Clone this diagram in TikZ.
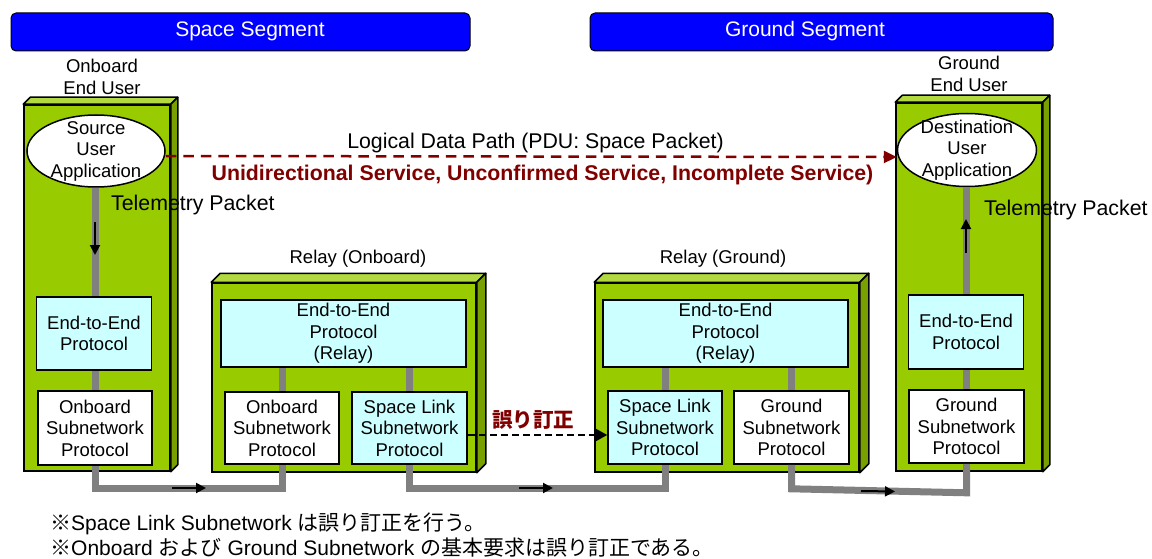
\documentclass[tikz,border=0pt]{standalone}
\usepackage{fontspec}
\setmainfont{Liberation Sans}
\newfontfamily\jp{Noto Sans CJK JP}
\usetikzlibrary{arrows.meta,calc,shapes.geometric}

\definecolor{segblue}{RGB}{0,0,255}
\definecolor{boxgreen}{RGB}{153,204,0}
\definecolor{topgreen}{RGB}{178,218,64}
\definecolor{sidegreen}{RGB}{120,160,0}
\definecolor{protocyan}{RGB}{204,255,255}
\definecolor{linkgray}{RGB}{128,128,128}
\definecolor{pathred}{RGB}{128,0,0}

% top and right faces of a station block
\newcommand\boxfaces[2]{%
  \filldraw[fill=topgreen, line width=1.5pt, line join=round]
    (#1.north west) -- ++(#2,-#2) -- ($(#1.north east)+(#2,-#2)$) -- (#1.north east) -- cycle;
  \filldraw[fill=sidegreen, line width=1.5pt, line join=round]
    (#1.north east) -- ++(#2,-#2) -- ($(#1.south east)+(#2,-#2)$) -- (#1.south east) -- cycle;
}

\begin{document}
\begin{tikzpicture}[x=1pt, y=-1pt,
  every node/.style={font=\fontsize{18.5}{21.5}\selectfont, align=center, inner sep=0pt},
  segment/.style={draw=black, line width=1pt, fill=segblue, rounded corners=5pt,
    minimum height=38pt},
  segtext/.style={text=white, font=\fontsize{21}{24}\selectfont},
  station/.style={draw=black, line width=1.5pt, fill=boxgreen},
  proto/.style={draw=black, line width=1.6pt, fill=protocyan},
  subnet/.style={draw=black, line width=1.6pt, fill=white},
  app/.style={ellipse, draw=black, line width=1.5pt, fill=white},
  link/.style={draw=linkgray, line width=7pt},
  flow/.style={draw=black, line width=2pt, -{Triangle[length=10pt,width=10pt]}},
  logical/.style={draw=pathred, line width=2.5pt, dash pattern=on 10.5pt off 7pt,
    -{Triangle[length=13pt,width=12pt]}},
  fec/.style={draw=black, line width=1.5pt, dash pattern=on 7pt off 4pt,
    -{Triangle[length=13pt,width=14pt]}},
  note/.style={anchor=west, font=\fontsize{21}{24}\selectfont},
]
\useasboundingbox (0,0) rectangle (1152,559);

% segment banners
\node[segment, minimum width=459pt] (spaceSeg) at (240.5,32) {};
\node[segtext] (spaceSegT) at (250,31) {Space Segment};
\node[segment, minimum width=463pt] (groundSeg) at (821.5,32) {};
\node[segtext] (groundSegT) at (805,31) {Ground Segment};

% station blocks
\node[station, minimum width=146pt, minimum height=366pt] (obU) at (97,288) {};
\boxfaces{obU}{7}
\node[station, minimum width=264pt, minimum height=189pt] (relO) at (344,377.5) {};
\boxfaces{relO}{9}
\node[station, minimum width=264pt, minimum height=189pt] (relG) at (727,377.5) {};
\boxfaces{relG}{9}
\node[station, minimum width=146pt, minimum height=368pt] (grU) at (969,287) {};
\boxfaces{grU}{7}

\node (obUT) at (102,77) {Onboard\\End User};
\node (relOT) at (358,259) {Relay (Onboard)};
\node (relGT) at (723,259) {Relay (Ground)};
\node (grUT) at (969,74) {Ground\\End User};

% onboard end user
\node[app, minimum width=138pt, minimum height=72pt] (src) at (96,151) {};
\node (srcT) at (src.center) {Source\\User\\Application};
\node[proto, minimum width=115pt, minimum height=73pt] (e2eL) at (94,333.5) {End-to-End\\Protocol};
\node[subnet, minimum width=114pt, minimum height=74pt] (subL) at (95,428) {Onboard\\Subnetwork\\Protocol};

% onboard relay
\node[proto, minimum width=245pt, minimum height=67pt] (e2eRO) at (343.5,333.5) {End-to-End\\Protocol\\(Relay)};
\node[subnet, minimum width=114pt, minimum height=72pt] (subRO) at (282,428) {Onboard\\Subnetwork\\Protocol};
\node[proto, minimum width=115pt, minimum height=72pt] (slRO) at (409.5,428) {Space Link\\Subnetwork\\Protocol};

% ground relay
\node[proto, minimum width=245pt, minimum height=67pt] (e2eRG) at (725.5,333.5) {End-to-End\\Protocol\\(Relay)};
\node[proto, minimum width=114pt, minimum height=73pt] (slRG) at (665,427.5) {Space Link\\Subnetwork\\Protocol};
\node[subnet, minimum width=115pt, minimum height=73pt] (gRG) at (791.5,427.5) {Ground\\Subnetwork\\Protocol};

% ground end user
\node[app, minimum width=139pt, minimum height=73pt] (dst) at (967,150) {};
\node (dstT) at (dst.center) {Destination\\User\\Application};
\node[proto, minimum width=115pt, minimum height=74pt] (e2eR) at (966,332) {End-to-End\\Protocol};
\node[subnet, minimum width=115pt, minimum height=73pt] (subR) at (966.5,426.5) {Ground\\Subnetwork\\Protocol};

% protocol stack links
\draw[link] (src.south -| subL.north) -- (subL.north |- e2eL.north);
\draw[link] (subL.north |- e2eL.south) -- (subL.north);
\draw[link] (subRO.north |- e2eRO.south) -- (subRO.north);
\draw[link] (slRO.north |- e2eRO.south) -- (slRO.north);
\draw[link] (slRG.north |- e2eRG.south) -- (slRG.north);
\draw[link] (gRG.north |- e2eRG.south) -- (gRG.north);
\draw[link] (dst.south -| subR.north) -- (subR.north |- e2eR.north);
\draw[link] (subR.north |- e2eR.south) -- (subR.north);

% physical path between stations
\draw[link] (subL.south) -- ++(0,23) -| (subRO.south);
\draw[link] (slRO.south) -- ++(0,24) -| (slRG.south);
\draw[link] (gRG.south) -- ++(0,24) -- ($(subR.south)+(0,29)$) -- (subR.south);

% direction of the telemetry flow
\coordinate (f1a) at (95,222);  \coordinate (f1b) at (95,255);
\coordinate (f2a) at (172,488); \coordinate (f2b) at (206,488);
\coordinate (f3a) at (519,488); \coordinate (f3b) at (553,488);
\coordinate (f4a) at (861,491); \coordinate (f4b) at (895,491.5);
\coordinate (f5a) at (966,253); \coordinate (f5b) at (966,219);
\draw[flow] (f1a) -- (f1b);
\draw[flow] (f2a) -- (f2b);
\draw[flow] (f3a) -- (f3b);
\draw[flow] (f4a) -- (f4b);
\draw[flow] (f5a) -- (f5b);

\node[anchor=west, font=\fontsize{21.3}{24}\selectfont] (tmL) at (111,205) {Telemetry Packet};
\node[anchor=west, font=\fontsize{21.3}{24}\selectfont] (tmR) at (984,210) {Telemetry Packet};

% logical data path
\draw[logical] ([yshift=-5pt]src.east) -- ([yshift=-7pt]dst.west);
\node[font=\fontsize{21.3}{24}\selectfont] (ldpT) at (535.5,143) {Logical Data Path (PDU: Space Packet)};
\node[text=pathred, font=\bfseries\fontsize{21.3}{24}\selectfont] (svcT) at (542.5,175)
  {Unidirectional Service, Unconfirmed Service, Incomplete Service)};

% error correction on the space link
\draw[fec] ([yshift=-7pt]slRO.east) -- ([yshift=-7.5pt]slRG.west);
\node[text=pathred, font=\jp\bfseries\fontsize{20.5}{24}\selectfont] (fecT) at (533,420) {誤り訂正};

% notes
\node[note] (note1) at (50,524) {{\jp ※}Space Link Subnetwork {\jp は誤り訂正を行う。}};
\node[note] (note2) at (50,548) {{\jp ※}Onboard {\jp および} Ground Subnetwork {\jp の基本要求は誤り訂正である。}};
\end{tikzpicture}
\end{document}
